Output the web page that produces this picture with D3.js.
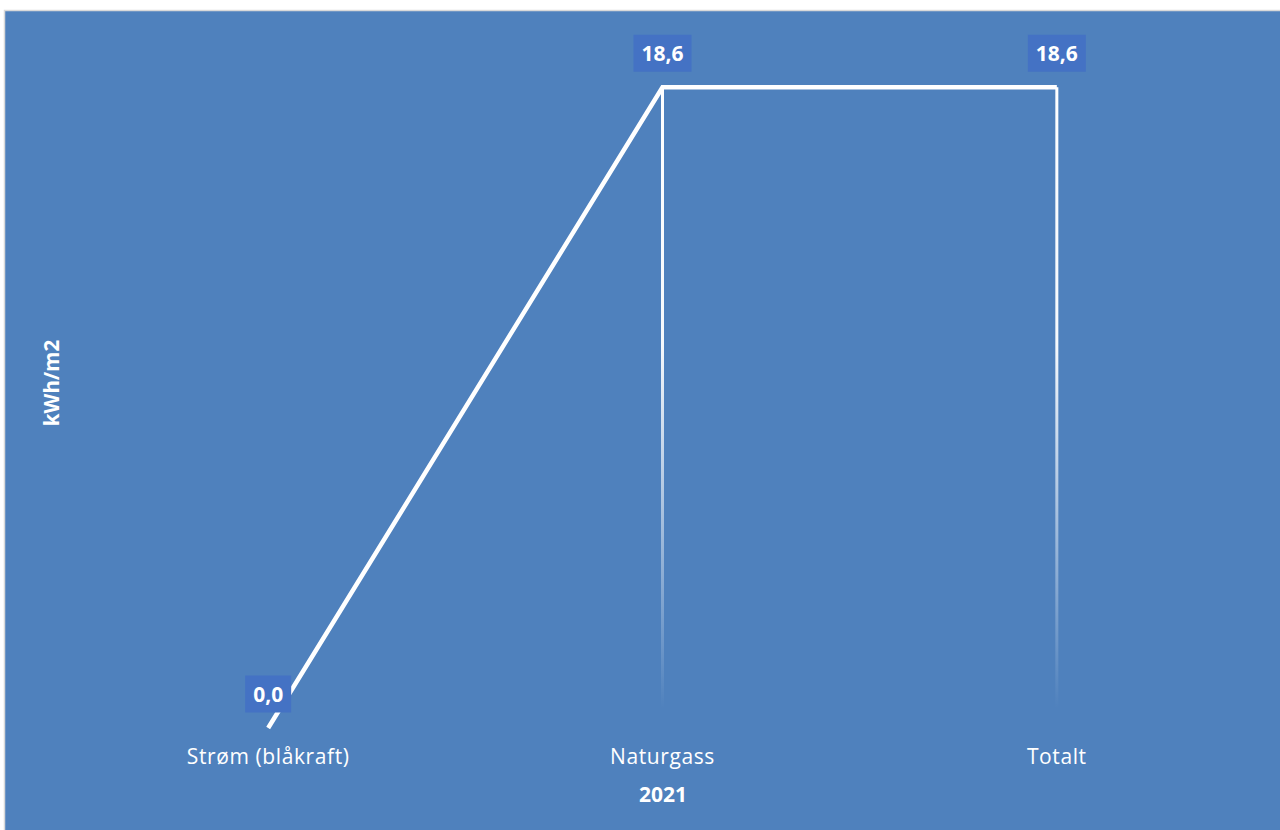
<!DOCTYPE html>
<html>
<head>
<meta charset="utf-8">
<script src="https://cdn.jsdelivr.net/npm/d3@7"></script>
<style>
html,body{margin:0;padding:0;background:#fff;}
svg{display:block;}
</style>
</head>
<body>
<script>
const categories = ["Strøm (blåkraft)", "Naturgass", "Totalt"];
const values = [0.0, 18.6, 18.6];
const yDomain = [0, 20];
const xAxisTitle = "2021";
const yAxisTitle = "kWh/m2";

const W = 1280, H = 830;
const svg = d3.select("body").append("svg").attr("width", W).attr("height", H);

// chart area background
svg.append("rect").attr("x", 4.5).attr("y", 10.5).attr("width", W).attr("height", H)
  .attr("fill", "#4f81bd").attr("stroke", "#d9d9d9").attr("stroke-width", 1.5);

const x = d3.scalePoint().domain(categories).range([71, 1254]).padding(0.5);
const y = d3.scaleLinear().domain(yDomain).range([728, 39]);

const defs = svg.append("defs");
const grad = defs.append("linearGradient").attr("id", "dropGrad")
  .attr("x1", 0).attr("y1", 0).attr("x2", 0).attr("y2", 1);
grad.append("stop").attr("offset", "0%").attr("stop-color", "#fff").attr("stop-opacity", 1);
grad.append("stop").attr("offset", "40%").attr("stop-color", "#fff").attr("stop-opacity", 0.95);
grad.append("stop").attr("offset", "97%").attr("stop-color", "#fff").attr("stop-opacity", 0);
grad.append("stop").attr("offset", "100%").attr("stop-color", "#fff").attr("stop-opacity", 0);

const data = categories.map((c, i) => ({c, v: values[i]}));

// drop lines
svg.append("g").selectAll("rect").data(data.filter(d => d.v > 0)).join("rect")
  .attr("x", d => x(d.c) - 1.5)
  .attr("y", d => y(d.v))
  .attr("width", 3)
  .attr("height", d => y(0) - y(d.v))
  .attr("fill", "url(#dropGrad)");

// line
const line = d3.line().x(d => x(d.c)).y(d => y(d.v));
svg.append("path").datum(data).attr("d", line)
  .attr("fill", "none").attr("stroke", "#fff").attr("stroke-width", 4.5)
  .attr("stroke-linejoin", "miter").attr("stroke-linecap", "butt");

// data labels
const fmt = v => d3.format(".1f")(v).replace(".", ",");
const lbl = svg.append("g").selectAll("g").data(data).join("g")
  .attr("transform", d => `translate(${x(d.c)},${y(d.v) - 34})`);
lbl.append("text")
  .attr("text-anchor", "middle").attr("dy", "0.36em")
  .attr("font-family", "Open Sans").attr("font-weight", 700).attr("font-size", 21)
  .attr("fill", "#fff").text(d => fmt(d.v))
  .each(function() {
    const b = this.getBBox();
    d3.select(this.parentNode).insert("rect", "text")
      .attr("x", b.x - 8).attr("y", -18.5).attr("width", b.width + 16).attr("height", 37)
      .attr("fill", "#4472c4");
  });

// category labels
svg.append("g").selectAll("text").data(categories).join("text")
  .attr("x", d => x(d)).attr("y", 764)
  .attr("text-anchor", "middle")
  .attr("font-family", "Open Sans").attr("font-size", 21).attr("letter-spacing", 0.6)
  .attr("fill", "#fff").text(d => d);

// x title
svg.append("text").attr("x", (x.range()[0] + x.range()[1]) / 2 + 0.5).attr("y", 802)
  .attr("text-anchor", "middle").attr("font-family", "Open Sans").attr("font-weight", 700)
  .attr("font-size", 21).attr("fill", "#fff").text(xAxisTitle);

// y title
svg.append("text").attr("transform", "translate(59,383) rotate(-90)")
  .attr("text-anchor", "middle").attr("font-family", "Open Sans").attr("font-weight", 700)
  .attr("font-size", 20.5).attr("fill", "#fff").text(yAxisTitle);
</script>
</body>
</html>
